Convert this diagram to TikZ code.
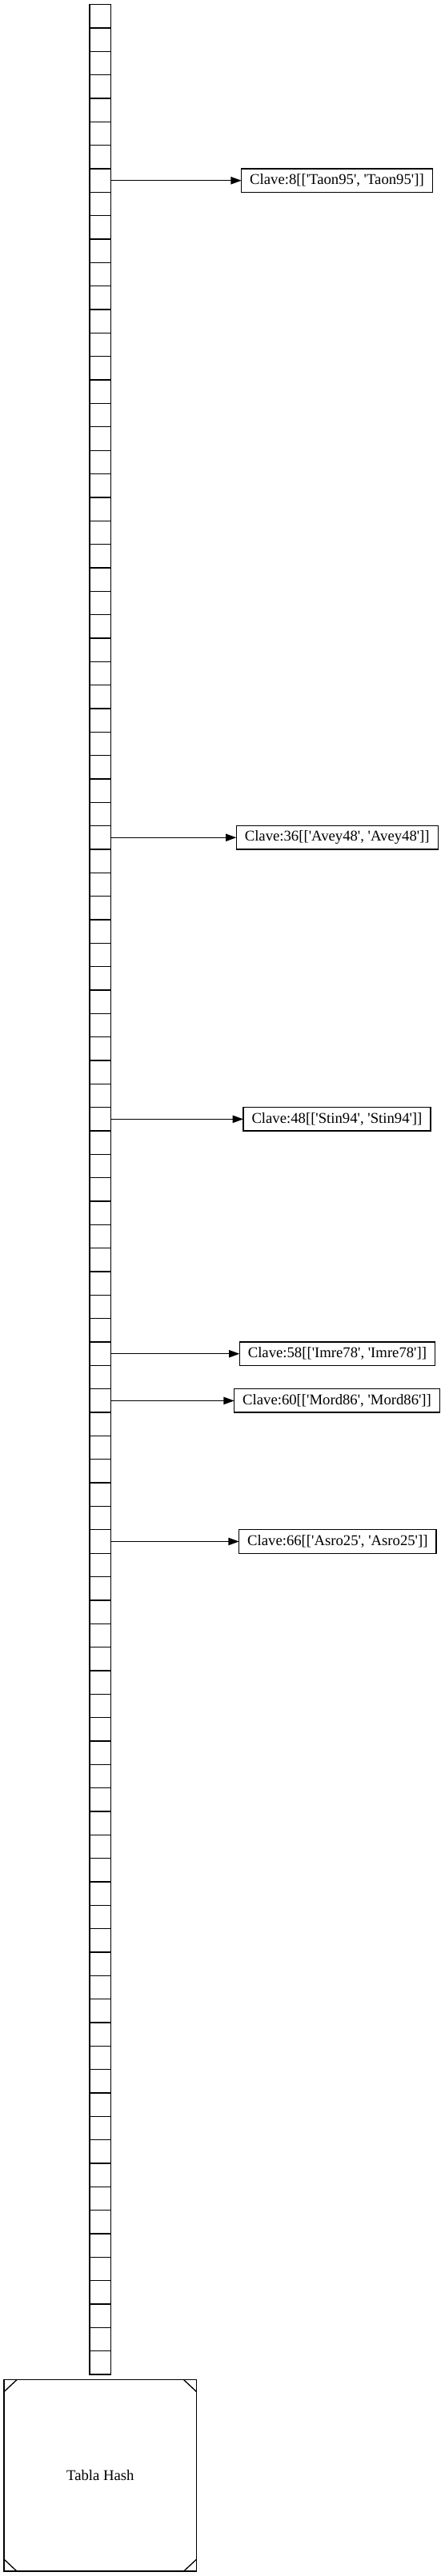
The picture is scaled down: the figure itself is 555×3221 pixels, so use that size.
\documentclass[tikz,border=0pt]{standalone}
\usepackage{fontspec}
\setmainfont{Liberation Serif}
\usetikzlibrary{positioning,arrows.meta}
\newcommand{\sq}[1]{\textquotesingle#1\textquotesingle}
\newcommand{\clave}[2]{Clave:#1[[\sq{#2}, \sq{#2}]]}

\begin{document}
\begin{tikzpicture}[
		x=1pt, y=-1pt
		,cell/.style={draw, line width=1.33pt, minimum width=26.4pt, minimum height=29.34pt, inner sep=0pt, outer sep=0pt}
		,entry/.style={draw, line width=1.33pt, minimum height=29.34pt, inner xsep=10.5pt, inner ysep=0pt, outer sep=0pt, font=\fontsize{18.7}{22}\selectfont}
		,link/.style={line width=1.33pt, -{Triangle[length=13.3pt, width=9.3pt]}}
		,msq/.style={draw, line width=1.33pt, minimum width=240.7pt, minimum height=239.3pt, outer sep=0pt, font=\fontsize{18.7}{22}\selectfont,
			path picture={
				\draw[line width=1.33pt] ([xshift=16pt]path picture bounding box.north west) -- ([yshift=-15pt]path picture bounding box.north west);
				\draw[line width=1.33pt] ([xshift=-16pt]path picture bounding box.north east) -- ([yshift=-15pt]path picture bounding box.north east);
				\draw[line width=1.33pt] ([xshift=16pt]path picture bounding box.south west) -- ([yshift=15pt]path picture bounding box.south west);
				\draw[line width=1.33pt] ([xshift=-16pt]path picture bounding box.south east) -- ([yshift=15pt]path picture bounding box.south east);
			}}
	]
		\useasboundingbox (0,0) rectangle (555,3221);

		% the slots of the table
		\foreach \i in {0,...,100}
			\node[cell] (c\i) at (125.2, {20.37+29.34*\i}) {};

		\node[msq] (tabla) at (125.3, 3095.3) {Tabla Hash};

		% stored keys
		\node[entry, right=163.3pt of c7] (k8) {\clave{8}{Taon95}};
		\node[entry, right=156.9pt of c35] (k36) {\clave{36}{Avey48}};
		\node[entry, right=165.6pt of c47] (k48) {\clave{48}{Stin94}};
		\node[entry, right=160.9pt of c57] (k58) {\clave{58}{Imre78}};
		\node[entry, right=154.3pt of c59] (k60) {\clave{60}{Mord86}};
		\node[entry, right=160.3pt of c65] (k66) {\clave{66}{Asro25}};

		\draw[link] (c7) -- (k8);
		\draw[link] (c35) -- (k36);
		\draw[link] (c47) -- (k48);
		\draw[link] (c57) -- (k58);
		\draw[link] (c59) -- (k60);
		\draw[link] (c65) -- (k66);
	\end{tikzpicture}
\end{document}
